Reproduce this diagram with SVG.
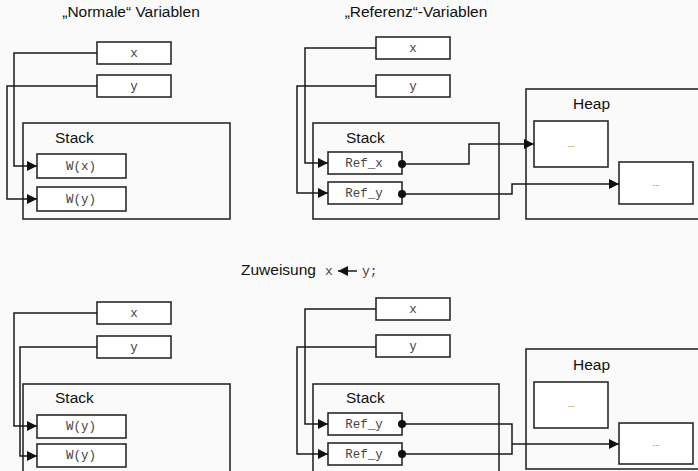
<svg xmlns="http://www.w3.org/2000/svg" width="698" height="471" viewBox="0 0 698 471">
<defs>
<style>
.box{fill:none;stroke:#2a2a2a;stroke-width:1.6}
.cell{fill:#fff;stroke:#2a2a2a;stroke-width:1.6}
.ln{fill:none;stroke:#1a1a1a;stroke-width:1.5}
.sans{font-family:"Liberation Sans",Arial,sans-serif;fill:#111}
.title{font-size:15.5px}
.lbl{font-size:15.5px}
.mono{font-family:"Liberation Mono","Courier New",monospace;font-size:12.5px;fill:#444}
.dots{font-family:"Liberation Sans",Arial,sans-serif;font-size:8px;fill:#333}
</style>
<marker id="ah" viewBox="0 0 10 10" refX="10" refY="5" markerWidth="10" markerHeight="10" markerUnits="userSpaceOnUse" orient="auto">
<path d="M0,0 L10,5 L0,10 z" fill="#111"/>
</marker>
<marker id="dot" viewBox="0 0 10 10" refX="5" refY="5" markerWidth="8" markerHeight="8" markerUnits="userSpaceOnUse">
<circle cx="5" cy="5" r="5" fill="#111"/>
</marker>
</defs>
<rect width="698" height="471" fill="#fafafa"/>

<g id="titles">
<text class="sans title" x="131" y="17" text-anchor="middle">„Normale“ Variablen</text>
<text class="sans title" x="416" y="17" text-anchor="middle">„Referenz“-Variablen</text>
<text class="sans title" x="241" y="275">Zuweisung</text>
<text class="mono" x="325" y="275" style="font-size:13px">x</text>
<line x1="357" y1="271" x2="338" y2="271" class="ln" marker-end="url(#ah)"/>
<text class="mono" x="362" y="275" style="font-size:13px">y;</text>
</g>

<!-- Top-left -->
<g id="tl-x"><rect class="cell" x="97" y="42" width="74" height="22"/><text class="mono" x="134" y="57" text-anchor="middle">x</text></g>
<g id="tl-y"><rect class="cell" x="97" y="75" width="74" height="22"/><text class="mono" x="134" y="90" text-anchor="middle">y</text></g>
<g id="tl-stack"><rect class="box" x="23" y="123" width="207" height="96"/><text class="sans lbl" x="55" y="143">Stack</text></g>
<g id="tl-wx"><rect class="cell" x="37" y="154" width="89" height="24"/><text class="mono" x="81" y="170" text-anchor="middle">W(x)</text></g>
<g id="tl-wy"><rect class="cell" x="37" y="187" width="89" height="24"/><text class="mono" x="81" y="203" text-anchor="middle">W(y)</text></g>

<!-- Top-right -->
<g id="tr-x"><rect class="cell" x="376" y="37" width="74" height="22"/><text class="mono" x="413" y="52" text-anchor="middle">x</text></g>
<g id="tr-y"><rect class="cell" x="376" y="75" width="74" height="22"/><text class="mono" x="413" y="90" text-anchor="middle">y</text></g>
<g id="tr-stack"><rect class="box" x="313" y="123" width="186" height="96"/><text class="sans lbl" x="346" y="143">Stack</text></g>
<g id="tr-refx"><rect class="cell" x="328" y="152" width="74" height="22"/><text class="mono" x="364" y="167" text-anchor="middle">Ref_x</text></g>
<g id="tr-refy"><rect class="cell" x="328" y="182" width="74" height="22"/><text class="mono" x="364" y="197" text-anchor="middle">Ref_y</text></g>
<g id="tr-heap"><rect class="box" x="526" y="89" width="180" height="130"/><text class="sans lbl" x="573" y="109">Heap</text></g>
<g id="tr-h1"><rect class="cell" x="534" y="121" width="74" height="46"/><text class="dots" x="571" y="147" text-anchor="middle">...</text></g>
<g id="tr-h2"><rect class="cell" x="619" y="162" width="74" height="42"/><text class="dots" x="656" y="186" text-anchor="middle">...</text></g>

<!-- Bottom-left -->
<g id="bl-x"><rect class="cell" x="97" y="302" width="74" height="22"/><text class="mono" x="134" y="317" text-anchor="middle">x</text></g>
<g id="bl-y"><rect class="cell" x="97" y="336" width="74" height="22"/><text class="mono" x="134" y="351" text-anchor="middle">y</text></g>
<g id="bl-stack"><rect class="box" x="23" y="384" width="207" height="100"/><text class="sans lbl" x="55" y="403">Stack</text></g>
<g id="bl-w1"><rect class="cell" x="37" y="415" width="89" height="23"/><text class="mono" x="81" y="430" text-anchor="middle">W(y)</text></g>
<g id="bl-w2"><rect class="cell" x="37" y="444" width="89" height="23"/><text class="mono" x="81" y="459" text-anchor="middle">W(y)</text></g>

<!-- Bottom-right -->
<g id="br-x"><rect class="cell" x="376" y="298" width="74" height="22"/><text class="mono" x="413" y="313" text-anchor="middle">x</text></g>
<g id="br-y"><rect class="cell" x="376" y="335" width="74" height="22"/><text class="mono" x="413" y="350" text-anchor="middle">y</text></g>
<g id="br-stack"><rect class="box" x="313" y="384" width="186" height="100"/><text class="sans lbl" x="346" y="403">Stack</text></g>
<g id="br-r1"><rect class="cell" x="328" y="413" width="74" height="22"/><text class="mono" x="364" y="428" text-anchor="middle">Ref_y</text></g>
<g id="br-r2"><rect class="cell" x="328" y="443" width="74" height="22"/><text class="mono" x="364" y="458" text-anchor="middle">Ref_y</text></g>
<g id="br-heap"><rect class="box" x="526" y="349" width="180" height="120"/><text class="sans lbl" x="573" y="370">Heap</text></g>
<g id="br-h1"><rect class="cell" x="534" y="382" width="74" height="46"/><text class="dots" x="571" y="407" text-anchor="middle">...</text></g>
<g id="br-h2"><rect class="cell" x="619" y="423" width="74" height="41"/><text class="dots" x="656" y="446" text-anchor="middle">...</text></g>

<g id="connectors">
<polyline class="ln" points="97,53 14,53 14,166 37,166" marker-end="url(#ah)"/>
<polyline class="ln" points="97,86 7,86 7,199 37,199" marker-end="url(#ah)"/>
<polyline class="ln" points="376,48 305,48 305,163 328,163" marker-end="url(#ah)"/>
<polyline class="ln" points="376,86 297,86 297,193 328,193" marker-end="url(#ah)"/>
<polyline class="ln" points="402,164 469,164 469,144 534,144" marker-start="url(#dot)" marker-end="url(#ah)"/>
<polyline class="ln" points="402,194 512,194 512,184 619,184" marker-start="url(#dot)" marker-end="url(#ah)"/>
<polyline class="ln" points="97,313 14,313 14,426 37,426" marker-end="url(#ah)"/>
<polyline class="ln" points="97,347 20,347 20,456 37,456" marker-end="url(#ah)"/>
<polyline class="ln" points="376,309 305,309 305,424 328,424" marker-end="url(#ah)"/>
<polyline class="ln" points="376,347 297,347 297,454 328,454" marker-end="url(#ah)"/>
<polyline class="ln" points="402,424 512,424 512,454 402,454" marker-start="url(#dot)" marker-end="url(#dot)"/>
<polyline class="ln" points="512,444 619,444" marker-end="url(#ah)"/>
</g>
</svg>
